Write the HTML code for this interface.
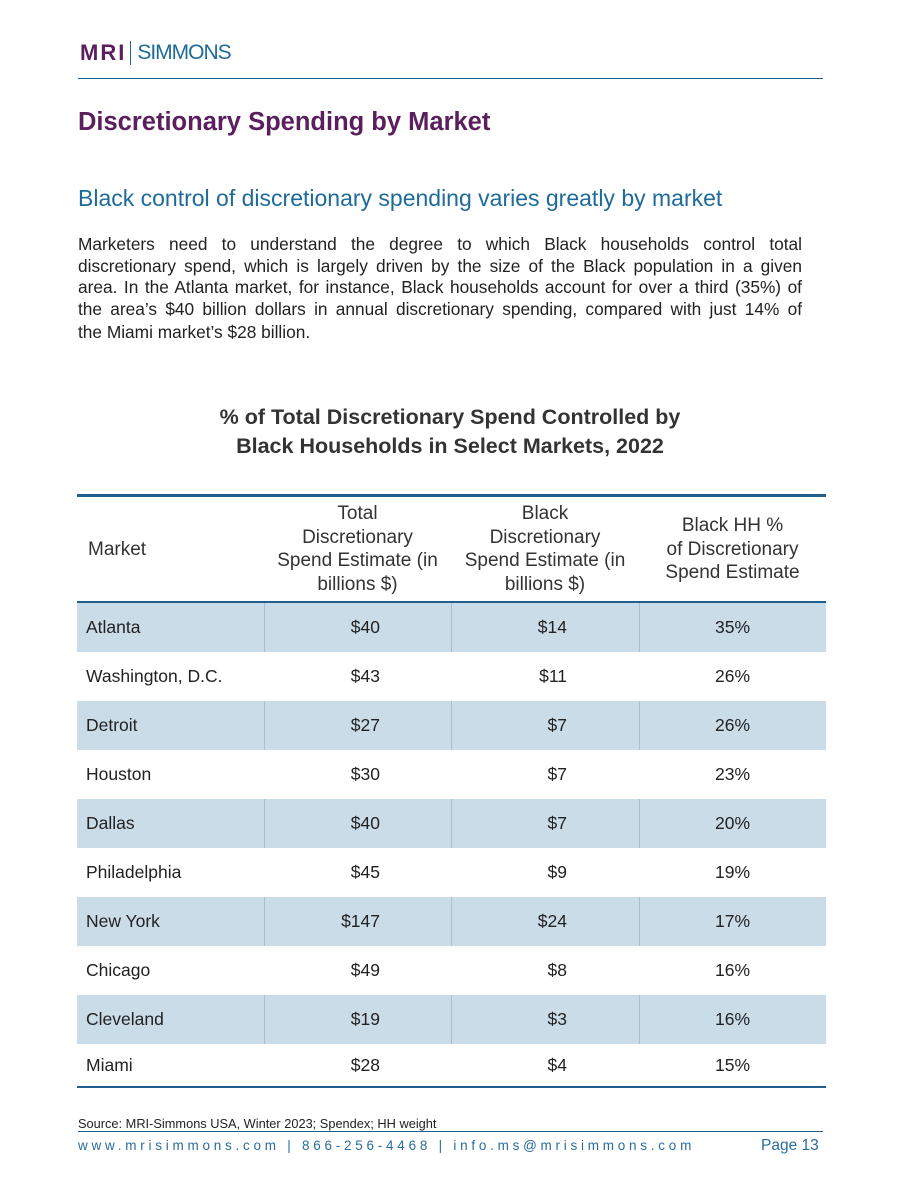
<!DOCTYPE html>
<html><head><meta charset="utf-8">
<style>
*{margin:0;padding:0;box-sizing:border-box}
body{width:900px;height:1200px;background:#fff;position:relative;font-family:"Liberation Sans",sans-serif;color:#222;overflow:hidden}
.abs{position:absolute}
.logo{left:80px;top:40px;height:26px;display:flex;align-items:center}
.mri{font-weight:bold;color:#5b1f5e;font-size:22px;letter-spacing:2px}
.bar{width:1px;height:24px;background:#1e6b9a;margin:0 6px 0 4px}
.sim{color:#1e6b9a;font-size:21px;letter-spacing:-1px}
.rule{left:78px;width:745px;height:1px;background:#1e5f88}
h1{position:absolute;left:78px;top:108px;font-size:25.5px;color:#5b1f5e;font-weight:bold}
h2{position:absolute;left:78px;top:185px;font-size:23px;color:#1e6b9a;font-weight:normal}
.body{left:78px;top:234px;width:724px;font-size:17.3px;line-height:21.5px;color:#222}
.body div{text-align:justify;text-align-last:justify;white-space:nowrap}
.body div.last{text-align-last:left}
.ct{left:150px;width:600px;top:403px;text-align:center;font-weight:bold;font-size:21.5px;line-height:29px;color:#333}
.th{position:absolute;font-size:19px;line-height:23.5px;text-align:center;color:#333}
.row{position:absolute;left:77px;width:749px;height:49px;font-size:17.5px;color:#222}
.row.sh{background:#cbdce9}
.cell{position:absolute;top:0;height:49px;line-height:49px}
.div{position:absolute;top:0;width:1px;height:49px;background:#a9bfd2}
.foot{left:78px;top:1138px;font-size:13.5px;letter-spacing:3.75px;color:#2a6d9c}
.page{left:761px;top:1137px;font-size:15.5px;color:#2a6d9c}
.src{left:78px;top:1116px;font-size:12.8px;color:#222}
</style></head><body>
<div class="abs logo"><span class="mri">MRI</span><span class="bar"></span><span class="sim">SIMMONS</span></div>
<div class="abs rule" style="top:78px"></div>
<h1>Discretionary Spending by Market</h1>
<h2>Black control of discretionary spending varies greatly by market</h2>
<div class="abs body">
<div>Marketers need to understand the degree to which Black households control total</div>
<div>discretionary spend, which is largely driven by the size of the Black population in a given</div>
<div>area. In the Atlanta market, for instance, Black households account for over a third (35%) of</div>
<div>the area’s $40 billion dollars in annual discretionary spending, compared with just 14% of</div>
<div class="last" style="margin-top:2px">the Miami market’s $28 billion.</div>
</div>
<div class="abs ct">% of Total Discretionary Spend Controlled by<br>Black Households in Select Markets, 2022</div>
<div class="abs" style="left:77px;top:494px;width:749px;height:3px;background:#1f5f8f"></div>
<div class="th" style="left:88px;top:538px;text-align:left">Market</div>
<div class="th" style="left:264px;width:187px;top:502px">Total<br>Discretionary<br>Spend Estimate (in<br>billions $)</div>
<div class="th" style="left:451px;width:188px;top:502px">Black<br>Discretionary<br>Spend Estimate (in<br>billions $)</div>
<div class="th" style="left:639px;width:187px;top:514px">Black HH %<br>of Discretionary<br>Spend Estimate</div>
<div class="abs" style="left:77px;top:601px;width:749px;height:3px;background:#1f5f8f"></div>
<div id="rows"></div>
<div class="abs" style="left:77px;top:1086px;width:749px;height:2px;background:#1f5f8f"></div>
<div class="abs src">Source: MRI-Simmons USA, Winter 2023; Spendex; HH weight</div>
<div class="abs rule" style="top:1131px"></div>
<div class="abs foot">www.mrisimmons.com | 866-256-4468 | info.ms@mrisimmons.com</div>
<div class="abs page">Page 13</div>
<script>
const markets=["Atlanta","Washington, D.C.","Detroit","Houston","Dallas","Philadelphia","New York","Chicago","Cleveland","Miami"];
const totalSpend=[40,43,27,30,40,45,147,49,19,28];
const blackSpend=[14,11,7,7,7,9,24,8,3,4];
const blackShare=[35,26,26,23,20,19,17,16,16,15];
const host=document.getElementById('rows');
markets.forEach((m,i)=>{
  const r=document.createElement('div');
  r.className='row'+(i%2===0?' sh':'');
  r.style.top=(603+i*49)+'px';
  if(i===markets.length-1){r.style.height='44px';}
  
  
  const h=i===markets.length-1?'42px':'49px';
  r.innerHTML=
    (i%2===0?'<div class="div" style="left:187px"></div><div class="div" style="left:374px"></div><div class="div" style="left:562px"></div>':'')+
    '<div class="cell" style="left:9px;line-height:'+h+'">'+m+'</div>'+
    '<div class="cell" style="left:187px;width:116px;text-align:right;line-height:'+h+'">$'+totalSpend[i]+'</div>'+
    '<div class="cell" style="left:374px;width:116px;text-align:right;line-height:'+h+'">$'+blackSpend[i]+'</div>'+
    '<div class="cell" style="left:562px;width:187px;text-align:center;line-height:'+h+'">'+blackShare[i]+'%</div>';
  host.appendChild(r);
});
</script>
</body></html>
